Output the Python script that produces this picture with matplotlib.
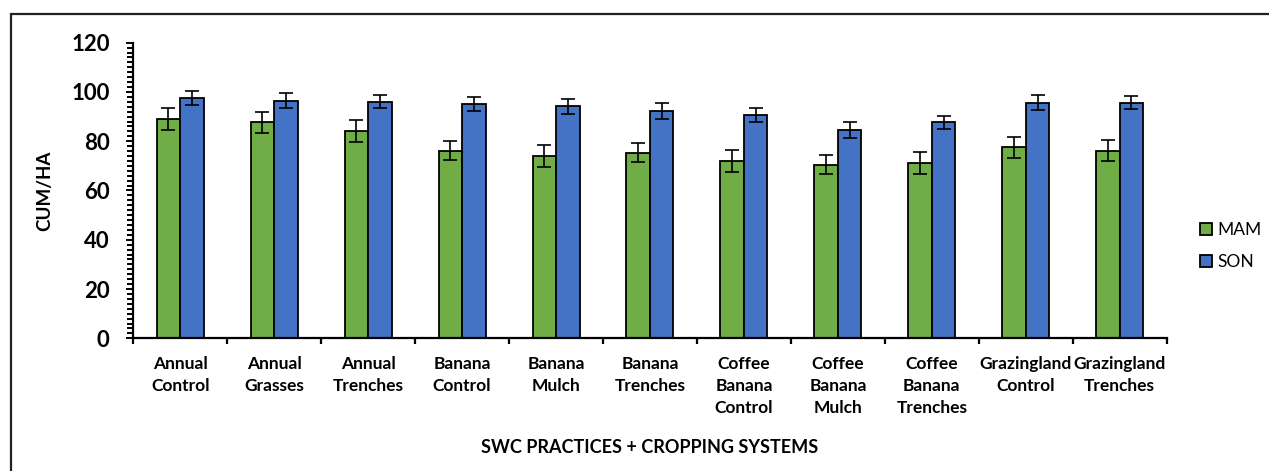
'''Grouped bar chart of CUM/HA by SWC practice and season'''
import matplotlib.pyplot as plt
from matplotlib.patches import Rectangle
from matplotlib.ticker import MultipleLocator
import numpy as np

categories = ['Annual\nControl', 'Annual\nGrasses', 'Annual\nTrenches', 'Banana\nControl',
              'Banana\nMulch', 'Banana\nTrenches', 'Coffee\nBanana\nControl',
              'Coffee\nBanana\nMulch', 'Coffee\nBanana\nTrenches', 'Grazingland\nControl',
              'Grazingland\nTrenches']
mam = [89.0, 87.7, 84.2, 76.2, 74.1, 75.4, 71.9, 70.4, 71.2, 77.6, 76.2]
mam_err = [4.5, 4.3, 4.6, 4.0, 4.4, 4.0, 4.5, 3.9, 4.5, 4.3, 4.4]
son = [97.5, 96.5, 96.1, 95.1, 94.1, 92.3, 90.5, 84.6, 87.6, 95.7, 95.7]
son_err = [2.8, 3.0, 2.7, 2.9, 3.1, 3.2, 2.9, 3.2, 2.8, 3.1, 2.7]

plt.rcParams['font.family'] = ['Lato', 'DejaVu Sans']

fig = plt.figure(figsize=(12.69, 4.71), dpi=100)
ax = fig.add_axes([0.105, 0.2817, 0.8144, 0.6277])

# outer frame of the chart (cut off at right and bottom)
fig.patches.append(Rectangle((0.0087, -0.05), 1.1, 1.0203, transform=fig.transFigure,
                             fill=False, edgecolor='#222222', linewidth=1.6))

x = np.arange(len(categories))
w = 0.25
err_kw = dict(ecolor='black', elinewidth=1.2, capsize=5, capthick=1.2)
ax.bar(x - w / 2, mam, w, yerr=mam_err, color='#70AD47', edgecolor='black',
       linewidth=1.3, label='MAM', error_kw=err_kw)
ax.bar(x + w / 2, son, w, yerr=son_err, color='#4472C4', edgecolor='black',
       linewidth=1.3, label='SON', error_kw=err_kw)

ax.set_xlim(-0.5, len(categories) - 0.5)
ax.set_ylim(0, 120)
ax.spines['top'].set_visible(False)
ax.spines['right'].set_visible(False)
ax.spines['left'].set_linewidth(1.6)
ax.spines['bottom'].set_linewidth(1.6)

ax.yaxis.set_major_locator(MultipleLocator(20))
ax.yaxis.set_minor_locator(MultipleLocator(2))
ax.tick_params(axis='y', which='major', length=5, width=1.4, pad=12, labelsize=16)
ax.tick_params(axis='y', which='minor', length=4, width=1.4)
for t in ax.get_yticklabels():
    t.set_fontweight('bold')

ax.set_xticks(x)
ax.set_xticklabels(categories, fontsize=12.5, fontweight='bold', linespacing=1.45)
ax.set_xticks(np.arange(len(categories) + 1) - 0.5, minor=True)
ax.tick_params(axis='x', which='major', length=0, pad=13)
ax.tick_params(axis='x', which='minor', length=4, width=1.6)

ax.set_ylabel('CUM/HA', fontsize=13.5, fontweight='bold')
ax.yaxis.set_label_coords(-0.077, 0.5)
ax.set_xlabel('SWC PRACTICES + CROPPING SYSTEMS', fontsize=13, fontweight='bold')
ax.xaxis.set_label_coords(0.5, -0.34)

fig.legend(loc='center left', bbox_to_anchor=(0.933, 0.478), frameon=False,
           fontsize=12.5, handlelength=0.7, handleheight=0.7, handletextpad=0.3,
           labelspacing=0.9)

fig.savefig('out.png', dpi=100)
